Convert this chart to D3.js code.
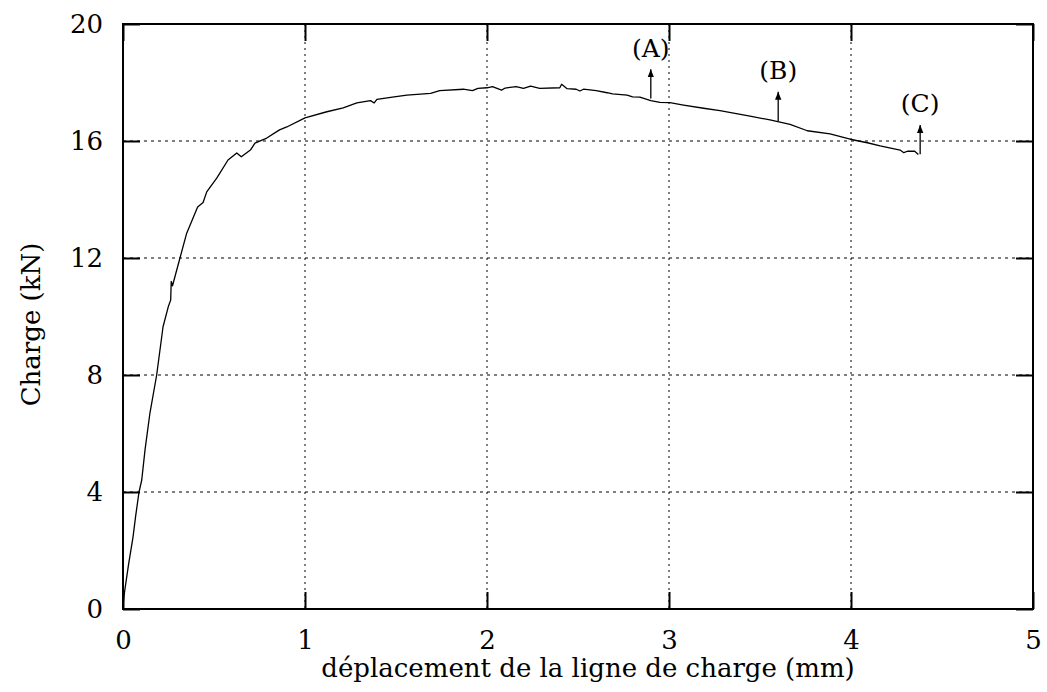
<!DOCTYPE html>
<html>
<head>
<meta charset="utf-8">
<script src="https://d3js.org/d3.v7.min.js"></script>
<style>
body { margin: 0; background: #fff; }
text { font-family: "DejaVu Serif", serif; fill: #000; }
</style>
</head>
<body>
<div id="chart"></div>
<script>
// curve
var displ = [0, 0.005, 0.01, 0.03, 0.055, 0.07, 0.088, 0.103, 0.121, 0.148, 0.185, 0.22, 0.249, 0.262, 0.265, 0.272, 0.313, 0.35, 0.41, 0.44, 0.46, 0.515, 0.577, 0.625, 0.65, 0.70, 0.725, 0.79, 0.86, 0.90, 1.0, 1.12, 1.21, 1.285, 1.36, 1.38, 1.395, 1.48, 1.56, 1.69, 1.74, 1.87, 1.92, 1.95, 2.0, 2.03, 2.08, 2.10, 2.16, 2.2, 2.24, 2.29, 2.40, 2.41, 2.44, 2.49, 2.51, 2.53, 2.60, 2.66, 2.69, 2.77, 2.80, 2.84, 2.90, 2.95, 3.005, 3.08, 3.19, 3.28, 3.34, 3.445, 3.555, 3.665, 3.76, 3.885, 3.995, 4.09, 4.16, 4.27, 4.29, 4.31, 4.35, 4.37];
var charge = [0.1, 0.4, 0.65, 1.5, 2.46, 3.2, 4.0, 4.41, 5.44, 6.7, 8.0, 9.65, 10.34, 10.56, 11.2, 11.05, 12.0, 12.85, 13.74, 13.9, 14.26, 14.73, 15.35, 15.59, 15.46, 15.69, 15.93, 16.1, 16.38, 16.48, 16.79, 17.0, 17.13, 17.3, 17.38, 17.3, 17.42, 17.5, 17.57, 17.63, 17.72, 17.77, 17.72, 17.8, 17.82, 17.86, 17.74, 17.81, 17.86, 17.8, 17.88, 17.8, 17.82, 17.94, 17.79, 17.77, 17.71, 17.77, 17.72, 17.65, 17.61, 17.57, 17.51, 17.5, 17.38, 17.32, 17.31, 17.23, 17.12, 17.04, 16.97, 16.85, 16.72, 16.57, 16.35, 16.24, 16.06, 15.94, 15.83, 15.69, 15.6, 15.65, 15.65, 15.54];

// annotations (arrows + labels)
var markLabels = ["(A)", "(B)", "(C)"];
var markX = [2.90, 3.60, 4.38];
var markFrom = [17.45, 16.68, 15.55];
var markTo = [18.45, 17.68, 16.55];
var markText = [19.1, 18.33, 17.2];

var xTicks = [0, 1, 2, 3, 4, 5];
var yTicks = [0, 4, 8, 12, 16, 20];

var data = displ.map(function(d, i) { return { x: d, y: charge[i] }; });

var margin = {top: 24, right: 14, bottom: 83, left: 123},
    width = 1047 - margin.left - margin.right,
    height = 692 - margin.top - margin.bottom;

var svg = d3.select("#chart")
  .append("svg")
  .attr("width", 1047)
  .attr("height", 692)
  .append("g")
  .attr("transform", "translate(" + margin.left + "," + margin.top + ")");

var x = d3.scaleLinear().domain([0, 5]).range([0, width]);
var y = d3.scaleLinear().domain([0, 20]).range([height, 0]);

// grid
svg.append("g")
  .selectAll("line")
  .data(xTicks.slice(1, -1))
  .enter().append("line")
  .attr("x1", function(d) { return x(d); })
  .attr("x2", function(d) { return x(d); })
  .attr("y1", 0).attr("y2", height)
  .attr("stroke", "#000").attr("stroke-width", 1)
  .attr("stroke-dasharray", "2,4");
svg.append("g")
  .selectAll("line")
  .data(yTicks.slice(1, -1))
  .enter().append("line")
  .attr("y1", function(d) { return y(d); })
  .attr("y2", function(d) { return y(d); })
  .attr("x1", 0).attr("x2", width)
  .attr("stroke", "#000").attr("stroke-width", 1)
  .attr("stroke-dasharray", "3,4");

// axes, ticks pointing inward on all sides
var tickLen = 17;
svg.append("g")
  .attr("transform", "translate(0," + height + ")")
  .call(d3.axisBottom(x).tickValues(xTicks).tickSize(-tickLen).tickPadding(tickLen + 5).tickFormat(d3.format("d")));
svg.append("g")
  .call(d3.axisTop(x).tickValues(xTicks).tickSize(-tickLen).tickFormat(""));
svg.append("g")
  .call(d3.axisLeft(y).tickValues(yTicks).tickSize(-tickLen).tickPadding(tickLen + 3).tickFormat(d3.format("d")));
svg.append("g")
  .attr("transform", "translate(" + width + ",0)")
  .call(d3.axisRight(y).tickValues(yTicks).tickSize(-tickLen).tickFormat(""));

svg.selectAll(".domain").remove();
svg.selectAll(".tick line").attr("stroke", "#000").attr("stroke-width", 2);
svg.selectAll(".tick text").attr("font-size", "26px").style("font-family", "DejaVu Serif, serif");

// frame
svg.append("rect")
  .attr("width", width).attr("height", height)
  .attr("fill", "none").attr("stroke", "#000").attr("stroke-width", 2);

// the curve
svg.append("path")
  .datum(data)
  .attr("fill", "none")
  .attr("stroke", "black")
  .attr("stroke-width", 1.3)
  .attr("stroke-linejoin", "round")
  .attr("d", d3.line()
    .x(function(d) { return x(d.x); })
    .y(function(d) { return y(d.y); }));

// arrow heads
svg.append("defs").append("marker")
  .attr("id", "head")
  .attr("viewBox", "0 0 10 10")
  .attr("refX", 10).attr("refY", 5)
  .attr("markerWidth", 8).attr("markerHeight", 8)
  .attr("markerUnits", "userSpaceOnUse")
  .attr("orient", "auto")
  .append("path")
  .attr("d", "M0,1 L10,5 L0,9 Z")
  .attr("fill", "#000");

svg.append("g")
  .selectAll("line")
  .data(markX)
  .enter().append("line")
  .attr("x1", function(d) { return x(d); })
  .attr("x2", function(d) { return x(d); })
  .attr("y1", function(d, i) { return y(markFrom[i]); })
  .attr("y2", function(d, i) { return y(markTo[i]); })
  .attr("stroke", "#000").attr("stroke-width", 1.3)
  .attr("marker-end", "url(#head)");

svg.append("g")
  .selectAll("text")
  .data(markLabels)
  .enter().append("text")
  .attr("x", function(d, i) { return x(markX[i]); })
  .attr("y", function(d, i) { return y(markText[i]); })
  .attr("text-anchor", "middle")
  .attr("dominant-baseline", "middle")
  .attr("font-size", "25px")
  .text(function(d) { return d; });

// axis titles
svg.append("text")
  .attr("x", width / 2 + 10)
  .attr("y", height + 68)
  .attr("text-anchor", "middle")
  .attr("font-size", "26px")
  .text("déplacement de la ligne de charge (mm)");

svg.append("text")
  .attr("transform", "translate(" + (-83) + "," + (height / 2 + 8) + ") rotate(-90)")
  .attr("text-anchor", "middle")
  .attr("font-size", "26px")
  .text("Charge (kN)");
</script>
</body>
</html>
